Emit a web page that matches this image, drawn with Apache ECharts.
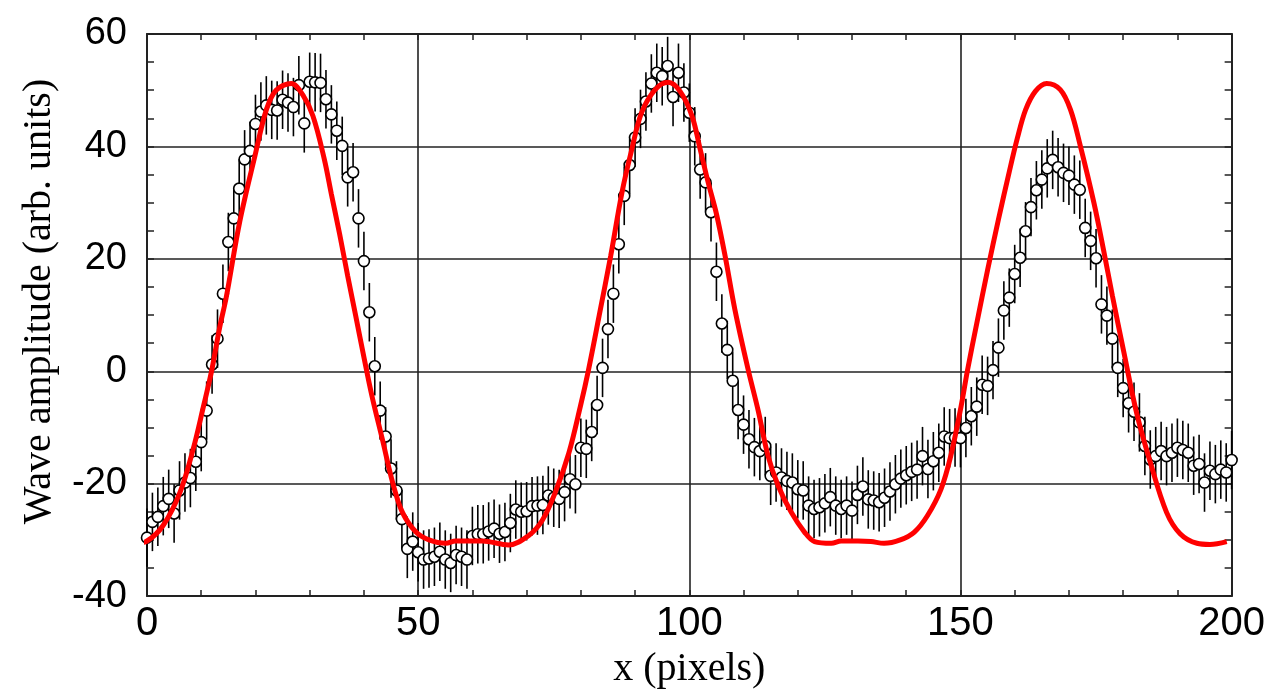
<!DOCTYPE html>
<html>
<head>
<meta charset="utf-8">
<script src="https://cdn.jsdelivr.net/npm/echarts@6/dist/echarts.min.js"></script>
<style>
html,body{margin:0;padding:0;background:#fff;}
#chart{width:1268px;height:694px;}
</style>
</head>
<body>
<div id="chart"></div>
<script>
// Measured data (x = 0..200, one point per pixel)
const dataY = [
-29.6,-26.8,-25.9,-24.0,-22.7,-25.3,-21.2,-19.8,-19.0,-16.1,
-12.6,-7.0,1.2,5.8,13.8,23.0,27.2,32.5,37.7,39.2,
44.0,46.2,47.3,46.5,46.4,48.3,47.8,47.0,50.9,44.1,
51.5,51.4,51.3,48.4,45.7,42.8,40.1,34.5,35.4,27.2,
19.6,10.5,0.9,-7.0,-11.6,-17.3,-21.2,-26.3,-31.6,-30.3,
-32.2,-33.5,-33.3,-33.0,-32.1,-33.5,-34.1,-32.7,-33.0,-33.5,
-29.3,-29.0,-29.0,-28.5,-28.0,-28.9,-28.6,-27.0,-24.6,-25.0,
-24.9,-24.0,-23.9,-23.8,-22.1,-22.5,-22.7,-21.5,-19.2,-20.1,
-13.6,-13.8,-10.8,-6.0,0.6,7.5,13.8,22.6,31.2,36.7,
41.6,44.9,48.0,51.2,53.1,52.5,54.3,48.8,53.1,49.6,
46.0,41.8,35.9,33.6,28.3,17.7,8.5,3.8,-1.7,-6.9,
-9.5,-12.1,-13.5,-14.2,-13.3,-18.6,-18.0,-18.9,-19.5,-19.8,
-21.0,-21.2,-23.9,-24.5,-24.2,-23.5,-22.4,-23.9,-24.5,-23.9,
-24.8,-22.0,-20.5,-22.8,-23.0,-23.3,-22.5,-21.4,-20.1,-19.1,
-18.5,-17.9,-17.5,-15.1,-17.4,-16.0,-14.5,-11.6,-11.9,-11.8,
-11.9,-10.1,-8.0,-6.3,-2.4,-2.6,0.2,4.2,10.8,13.1,
17.3,20.2,24.9,29.2,32.2,34.1,36.1,37.6,36.3,35.3,
34.8,33.2,32.3,25.5,23.2,20.1,11.9,9.9,5.8,0.6,
-3.0,-5.7,-7.2,-9.1,-13.3,-15.7,-15.1,-14.2,-15.1,-14.5,
-13.6,-14.0,-14.5,-16.8,-16.5,-19.8,-17.7,-18.3,-17.5,-18.0,
-15.8
];
const errHalf = 5.2; // error bar half-height (arb. units)

// Model curve (red)
const redX = [-2.4,0,3,6.1,8.5,10.4,11.9,13.4,14.6,17.1,19.9,22,23.8,26.6,28.7,30.6,32.7,34,35.5,37,38.5,40,41.5,43.4,45.3,47.1,49.6,52,55.1,56.9,61.8,66.7,70.4,72.9,75.3,77.8,79.9,81.4,83.4,85.5,87.6,89.4,91.2,93.7,96.1,98.3,100.5,102,103.5,105,106.6,108.4,110.8,112.7,114.5,116.4,118.8,121.3,123.1,126.2,128,131.1,133.5,135.9,138.9,141.5,143.9,146.4,148.2,150.1,151.3,153,155,157,159,160.5,162,163.8,165.9,168.4,170.3,172.1,174.6,176.4,178,180.1,182.5,185,188,190.5,193.6,196,199.1];
const redY = [-30.6,-30.2,-27.4,-21.5,-13.9,-6.3,0,7.8,13.1,26.6,38.3,46.5,50,51.2,49.2,45.4,37.7,31.5,24.5,17,9.8,2.5,-4.5,-12.1,-19.8,-25.1,-28.6,-30,-30.6,-30.2,-30.2,-30.9,-29.2,-26.5,-21.5,-14.5,-6.3,0.2,10,20.5,31.9,39.5,46,50.1,51.4,49.8,45.4,39.5,33.5,28,20.5,11,0.5,-7,-15,-20.4,-25.1,-28.7,-30.3,-30.6,-30.2,-30.2,-30.3,-30.6,-30,-28.6,-25.7,-21,-15.1,-6.3,0.2,8.5,18,27,35.5,41.5,46.5,49.8,51.2,50.1,46.5,40.1,30,21.5,13.5,3.5,-7.5,-16.2,-25.1,-28.9,-30.6,-30.8,-30.3];

const xTicks = [0, 50, 100, 150, 200];
const yTicks = [-40, -20, 0, 20, 40, 60];

const points = dataY.map((v, i) => [i, v]);
const redLine = redX.map((x, i) => [x, redY[i]]);

const frame = '#222';
const labelFont = '"Liberation Sans", Arial, sans-serif';
const titleFont = '"Liberation Serif", "Times New Roman", serif';

function xAx(pos, labels) {
  return {
    type: 'value', position: pos, min: xTicks[0], max: xTicks[xTicks.length - 1], interval: 50,
    axisLine: { show: true, onZero: false, lineStyle: { color: frame, width: 2 } },
    axisTick: { show: true, inside: true, length: 6, lineStyle: { color: frame, width: 1.5 } },
    minorTick: { show: true, splitNumber: 5, length: 6, lineStyle: { color: frame, width: 1.5 } },
    splitLine: { show: labels, lineStyle: { color: frame, width: 1.6 } },
    axisLabel: { show: labels, fontFamily: labelFont, fontSize: 40, color: '#000', margin: 8 },
    name: labels ? 'x (pixels)' : '', nameLocation: 'middle', nameGap: 68,
    nameTextStyle: { fontFamily: titleFont, fontSize: 40, color: '#000', verticalAlign: 'middle' }
  };
}
function yAx(pos, labels) {
  return {
    type: 'value', position: pos, min: yTicks[0], max: yTicks[yTicks.length - 1], interval: 20,
    axisLine: { show: true, onZero: false, lineStyle: { color: frame, width: 2 } },
    axisTick: { show: true, inside: true, length: 7, lineStyle: { color: frame, width: 1.5 } },
    minorTick: { show: true, splitNumber: 4, length: 7, lineStyle: { color: frame, width: 1.5 } },
    splitLine: { show: labels, lineStyle: { color: frame, width: 1.6 } },
    axisLabel: { show: labels, fontFamily: labelFont, fontSize: 38, color: '#000', margin: 20, padding: [0, 0, 14, 0] },
    name: labels ? 'Wave amplitude (arb. units)' : '', nameLocation: 'middle', nameGap: 108, nameRotate: 90,
    nameTextStyle: { fontFamily: titleFont, fontSize: 40, color: '#000', verticalAlign: 'middle', padding: [0, 0, 0, 27] }
  };
}

const chart = echarts.init(document.getElementById('chart'), null, { renderer: 'canvas' });
chart.setOption({
  animation: false,
  backgroundColor: '#fff',
  grid: { left: 147, right: 33, top: 34, bottom: 92, containLabel: false },
  xAxis: [xAx('bottom', true), xAx('top', false)],
  yAxis: [yAx('left', true), yAx('right', false)],
  series: [
    {
      type: 'custom', xAxisIndex: 0, yAxisIndex: 0, z: 2,
      data: points,
      renderItem: function (params, api) {
        const x = api.value(0), y = api.value(1);
        const p1 = api.coord([x, y - errHalf]);
        const p2 = api.coord([x, y + errHalf]);
        return { type: 'line', shape: { x1: p1[0], y1: p1[1], x2: p2[0], y2: p2[1] },
                 style: { stroke: '#000', lineWidth: 1.6 } };
      }
    },
    {
      type: 'scatter', xAxisIndex: 0, yAxisIndex: 0, z: 3,
      data: points, symbol: 'circle', symbolSize: 11,
      itemStyle: { color: '#fff', borderColor: '#000', borderWidth: 1.6, opacity: 1 }
    },
    {
      type: 'line', xAxisIndex: 0, yAxisIndex: 0, z: 4,
      data: redLine, showSymbol: false, smooth: 0.35, clip: false,
      lineStyle: { color: '#ff0000', width: 5 }
    }
  ]
});
</script>
</body>
</html>
